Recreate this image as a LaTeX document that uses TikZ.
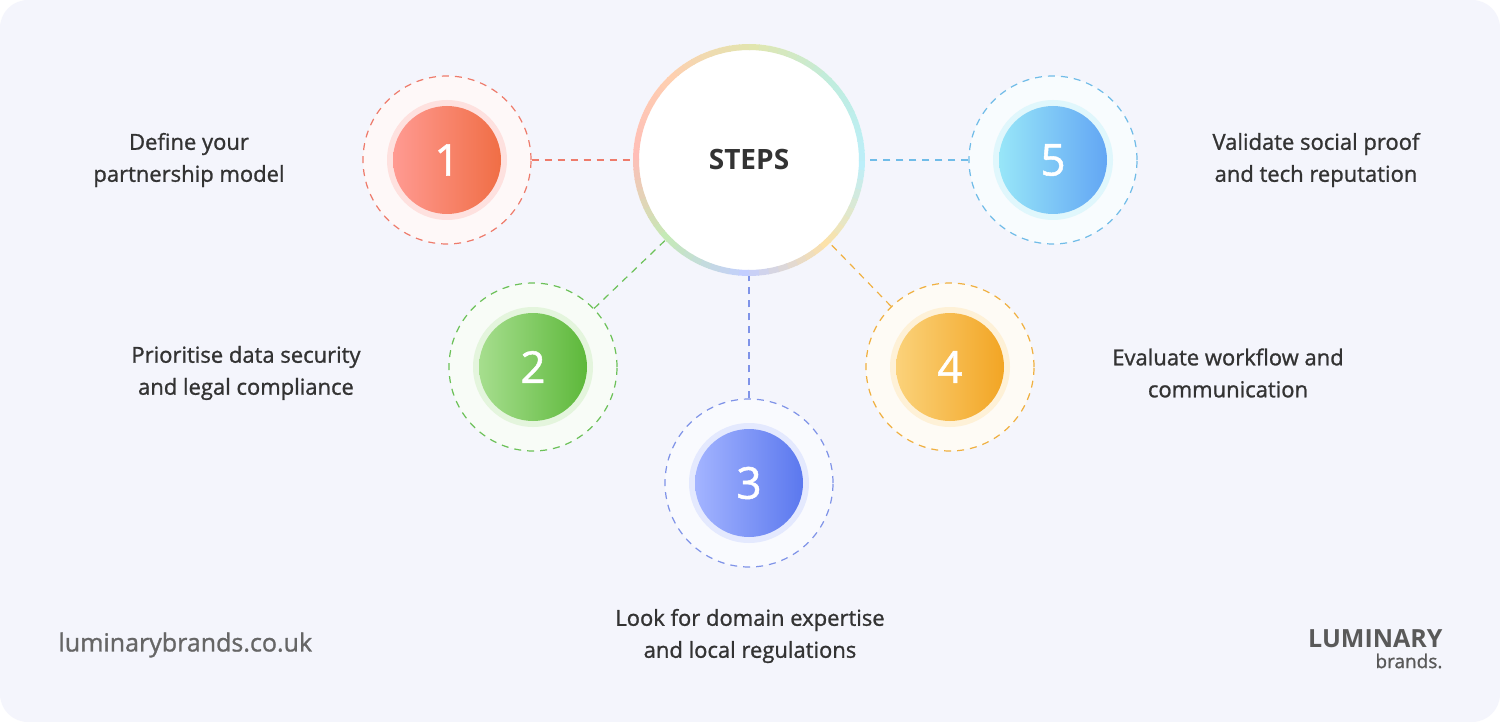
\documentclass[tikz,border=0pt]{standalone}
\usepackage{fontspec}
\setmainfont{Open Sans}
\newfontfamily\med{Open Sans}[FakeBold=1.1]
\newfontfamily\numf{Open Sans}[FakeBold=1.2]
\begin{document}
\begin{tikzpicture}[x=1pt,y=-1pt,
  lbl/.style={align=center,font=\med\fontsize{22}{32}\selectfont,text=black!80},
  num/.style={font=\numf\fontsize{44}{44}\selectfont,text=white},
  outer/.style={circle,minimum size=168pt,draw=#1,dashed,dash pattern=on 7pt off 6pt,line width=1.2pt,fill=#1!5},
  conn/.style={draw=#1,dashed,dash pattern=on 7pt off 6pt,line width=1.2pt}]
\definecolor{bg}{HTML}{F4F5FC}
\definecolor{cA}{HTML}{EE7B6B}\definecolor{cAl}{HTML}{FF9A92}\definecolor{cAd}{HTML}{F06E45}
\definecolor{cB}{HTML}{6CC158}\definecolor{cBl}{HTML}{A6DE8E}\definecolor{cBd}{HTML}{5DB83A}
\definecolor{cC}{HTML}{7F93E8}\definecolor{cCl}{HTML}{A3B4FF}\definecolor{cCd}{HTML}{5B78EE}
\definecolor{cD}{HTML}{F0B040}\definecolor{cDl}{HTML}{FBD27A}\definecolor{cDd}{HTML}{F2A524}
\definecolor{cE}{HTML}{70BCE8}\definecolor{cEl}{HTML}{98E6F8}\definecolor{cEd}{HTML}{62A6F4}
\fill[white] (0,0) rectangle (1500,722);
\useasboundingbox (0,0) rectangle (1500,722);
\fill[bg,rounded corners=28pt] (0,0) rectangle (1500,722);
\node[outer=cA] (o1) at (447,160) {};
\node[outer=cB] (o2) at (533,367) {};
\node[outer=cC] (o3) at (749,483) {};
\node[outer=cD] (o4) at (950,367) {};
\node[outer=cE] (o5) at (1053,160) {};
\foreach \p/\l/\d/\n in {o1/cAl/cAd/1,o2/cBl/cBd/2,o3/cCl/cCd/3,o4/cDl/cDd/4,o5/cEl/cEd/5}{
  \fill[\l!35,opacity=0.8] (\p) circle (60pt);
  \shade[left color=\l,right color=\d] (\p) circle (54pt);
  \node[num] at (\p) {\n};
}
\node[circle,minimum size=232pt,fill=white] (c) at (749,160) {};
\colorlet{k0}{cEl}\colorlet{k1}{cDl}\colorlet{k2}{cCl}\colorlet{k3}{cBl}
\colorlet{k4}{cAl}\colorlet{k5}{cAl!50!cDl}\colorlet{k6}{cDl!50!cBl}\colorlet{k7}{cBl!40!cEl}\colorlet{k8}{cEl}
\foreach \a in {0,5,...,355}{
  \pgfmathtruncatemacro{\i}{\a/45}
  \pgfmathtruncatemacro{\j}{\i+1}
  \pgfmathtruncatemacro{\m}{100-(\a-45*\i)/45*100}
  \colorlet{rc}{k\i!\m!k\j}
  \draw[rc!65,line width=6pt] ([shift={(-\a:113pt)}]c.center) arc[start angle=-\a,end angle=-\a-5.5,radius=113pt];
}
\node[font=\fontsize{28}{28}\selectfont\bfseries,text=black!80] at (c) {STEPS};
\draw[conn=cA] (o1) -- (c);
\draw[conn=cE] (o5) -- (c);
\draw[conn=cB] (o2) -- (c);
\draw[conn=cC] (o3) -- (c);
\draw[conn=cD] (o4) -- (c);
\node[lbl] (t1) at (189,160) {Define your\\partnership model};
\node[lbl] (t2) at (246,373) {Prioritise data security\\and legal compliance};
\node[lbl] (t3) at (750,636) {Look for domain expertise\\and local regulations};
\node[lbl] (t4) at (1228,373) {Evaluate workflow and\\communication};
\node[lbl] (t5) at (1316,160) {Validate social proof\\and tech reputation};
\node[anchor=west,font=\med\fontsize{25}{25}\selectfont,text=black!60] (web) at (55,645) {luminarybrands.co.uk};
\node[anchor=east,font=\fontsize{25}{25}\selectfont\bfseries,text=black!65] (logo) at (1446,639) {LUMINARY};
\node[anchor=east,font=\med\fontsize{19}{19}\selectfont,text=black!65] (logo2) at (1446,661) {brands.};
\end{tikzpicture}
\end{document}
